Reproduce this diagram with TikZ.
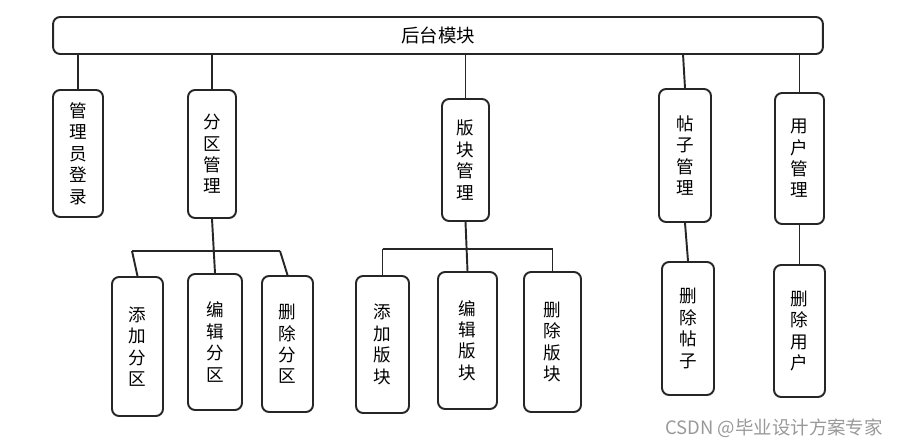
\documentclass[tikz,border=0pt]{standalone}
\usepackage{fontspec}
\setmainfont{Noto Sans CJK SC}
\usepackage{tikz}
\usetikzlibrary{positioning}
\tikzstyle{line} = [draw, black!85, line width=1.1pt]
\tikzstyle{topbar} = [rectangle, draw=black!85, line width=1.1pt, rounded corners=4pt,
  minimum width=15.4cm, minimum height=0.74cm, font=\fontsize{10.5pt}{12pt}\selectfont]
\tikzstyle{mod} = [rectangle, draw=black!85, line width=1.1pt, rounded corners=4pt,
  align=center, inner sep=0pt, font=\fontsize{10pt}{12.2pt}\selectfont]

\begin{document}
\begin{tikzpicture}[x=0.02cm, y=-0.02cm]
    \useasboundingbox (0,0) rectangle (905,448);

    \node [topbar] (top) at (438,35.5) {后台模块};

    % first row
    \node [mod, minimum width=1.00cm, minimum height=2.54cm] (login) at (78,153.5) {管\\理\\员\\登\\录};
    \node [mod, minimum width=0.96cm, minimum height=2.56cm] (part) at (212,154) {分\\区\\管\\理};
    \node [mod, minimum width=0.94cm, minimum height=2.44cm] (board) at (465.5,160) {版\\块\\管\\理};
    \node [mod, minimum width=1.04cm, minimum height=2.66cm] (post) at (685,155.5) {帖\\子\\管\\理};
    \node [mod, minimum width=0.98cm, minimum height=2.62cm] (user) at (799.5,158.5) {用\\户\\管\\理};

    % second row
    \node [mod, minimum width=1.02cm, minimum height=2.78cm] (addpart) at (137.5,346.5) {添\\加\\分\\区};
    \node [mod, minimum width=1.08cm, minimum height=2.72cm] (editpart) at (215,342) {编\\辑\\分\\区};
    \node [mod, minimum width=1.02cm, minimum height=2.72cm] (delpart) at (287.5,344) {删\\除\\分\\区};
    \node [mod, minimum width=1.06cm, minimum height=2.74cm] (addboard) at (382.5,344.5) {添\\加\\版\\块};
    \node [mod, minimum width=1.18cm, minimum height=2.74cm] (editboard) at (467.5,340.5) {编\\辑\\版\\块};
    \node [mod, minimum width=1.14cm, minimum height=2.80cm] (delboard) at (552.5,342) {删\\除\\版\\块};
    \node [mod, minimum width=1.04cm, minimum height=2.66cm] (delpost) at (688,328.5) {删\\除\\帖\\子};
    \node [mod, minimum width=1.02cm, minimum height=2.64cm] (deluser) at (799.5,331) {删\\除\\用\\户};

    \coordinate (pl) at (132,251);
    \coordinate (pr) at (280,251);
    \coordinate (bl) at (382.5,249);
    \coordinate (br) at (552.5,249);

    \path [line] (login.north) -- (login.north |- top.south);
    \path [line] (part.north) -- (part.north |- top.south);
    \path [line] (board.north) -- (board.north |- top.south);
    \path [line] (post.north) -- (683,54);
    \path [line] (user.north) -- (user.north |- top.south);

    \path [line] (part.south) -- (editpart.north);
    \path [line] (pl) -- (pr);
    \path [line] (pl) -- (addpart.north);
    \path [line] (pr) -- (delpart.north);

    \path [line] (board.south) -- (editboard.north);
    \path [line] (bl) -- (br);
    \path [line] (bl) -- (addboard.north);
    \path [line] (br) -- (delboard.north);

    \path [line] (post.south) -- (delpost.north);
    \path [line] (user.south) -- (deluser.north);

    \node [text=black!40, font=\fontsize{10.5pt}{12pt}\selectfont, anchor=east] (mark) at (889,428) {CSDN @毕业设计方案专家};
\end{tikzpicture}
\end{document}
